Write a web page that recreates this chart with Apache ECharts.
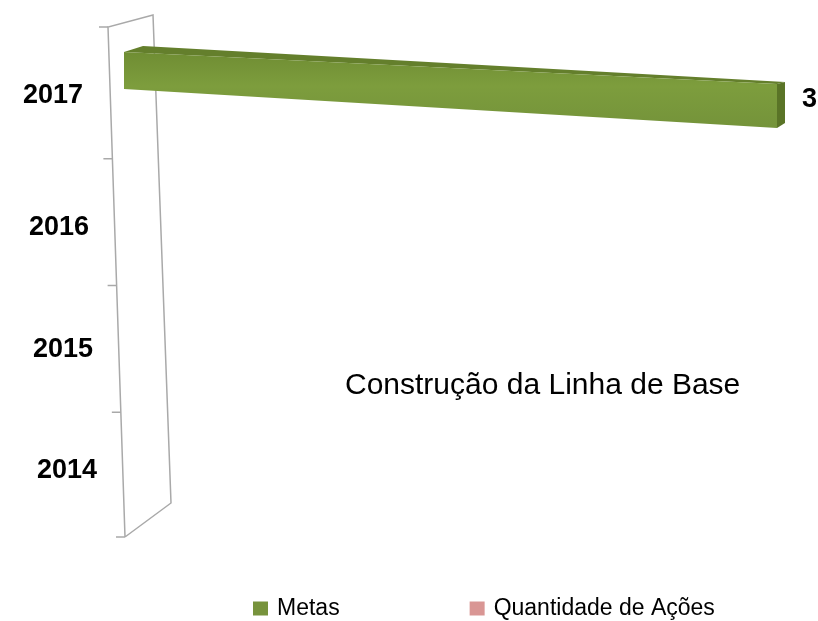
<!DOCTYPE html>
<html>
<head>
<meta charset="utf-8">
<script src="https://cdn.jsdelivr.net/npm/echarts@6/dist/echarts.min.js"></script>
<style>html,body{margin:0;padding:0;background:#fff;}#c{width:818px;height:621px;}</style>
</head>
<body>
<div id="c"></div>
<script>
// ---- data ----
const years = ['2014', '2015', '2016', '2017'];
const metas = [null, null, null, 3];
const acoes = [null, null, null, null];
const seriesNames = ['Metas', 'Quantidade de Ações'];
const chartTitle = 'Construção da Linha de Base';
const xMax = 3;

const FONT = '"Liberation Sans", Arial, sans-serif';
const chart = echarts.init(document.getElementById('c'), null, {renderer: 'canvas'});

function makeBarRenderer(colors) {
  return function (params, api) {
    const v = api.value(0);
    if (v == null || isNaN(v)) return;
    const cat = api.value(1);
    const p0 = api.coord([0, cat]);
    const p1 = api.coord([v, cat]);
    const band = api.size([0, 1])[1];
    const cy = p0[1];
    const x0 = p0[0], x1 = p1[0];
    const lt = cy - 0.342 * band, lb = cy - 0.05 * band;
    const rt = cy - 0.09 * band, rb = cy + 0.257 * band;
    return {
      type: 'group',
      children: [
        { type: 'polygon', shape: { points: [[x0, lt], [x1, rt], [x1 + 8, rt - 2], [x0 + 19, lt - 6]] },
          style: { fill: colors.top } },
        { type: 'polygon', shape: { points: [[x1, rt], [x1 + 8, rt - 2], [x1 + 8, rb - 5], [x1, rb]] },
          style: { fill: colors.side } },
        { type: 'polygon', shape: { points: [[x0, lt], [x1, rt], [x1, rb], [x0, lb]] },
          style: { fill: new echarts.graphic.LinearGradient(0, 0, 0, 1, [
            { offset: 0, color: colors.frontTop },
            { offset: 0.45, color: colors.frontMid },
            { offset: 1, color: colors.frontBot }
          ]) } },
        { type: 'text', style: { text: String(v), x: x1 + 25, y: (rt + rb) / 2 - 6,
            fill: '#000', font: 'bold 27px ' + FONT, align: 'left', verticalAlign: 'middle' } }
      ]
    };
  };
}

function renderWall(params, api) {
  const cs = params.coordSys;
  const x = cs.x, y = cs.y, w = cs.width, h = cs.height;
  const ft = [x - 16, y - 5], fb = [x + 1, y + h - 2];
  const bt = [x + 29, y - 17], bb = [x + 47, y + h - 36];
  const lineStyle = { stroke: '#a9a9a9', lineWidth: 1.5 };
  const children = [
    { type: 'polyline', shape: { points: [fb, ft, bt, bb, fb] }, style: Object.assign({ fill: null }, lineStyle) }
  ];
  const n = years.length;
  for (let i = 0; i <= n; i++) {
    let ty = y + h * i / n;
    if (i === 0) ty = ft[1];
    if (i === n) ty = fb[1];
    const tx = ft[0] + (fb[0] - ft[0]) * (ty - ft[1]) / (fb[1] - ft[1]);
    children.push({ type: 'line', shape: { x1: tx - 9, y1: ty, x2: tx, y2: ty }, style: lineStyle });
  }
  return { type: 'group', children: children };
}

const greenColors = { top: '#647f2c', side: '#5a7427', frontTop: '#6f8d33', frontMid: '#7d9d3d', frontBot: '#74933a' };
const pinkColors = { top: '#c27d7b', side: '#b87371', frontTop: '#d48f8d', frontMid: '#dd9a98', frontBot: '#d69290' };

const padMap = { '2017': [0, 14, 0, 0], '2016': [10, 8, 0, 0], '2015': [2, 4, 0, 0], '2014': [0, 0, 10, 0] };
const rich = {};
years.forEach(function (yv) {
  rich['y' + yv] = { fontFamily: FONT, fontSize: 27, fontWeight: 'bold', color: '#000', padding: padMap[yv] };
});

chart.setOption({
  backgroundColor: '#fff',
  animation: false,
  title: {
    text: chartTitle, left: 345, top: 371, padding: 0,
    textStyle: { fontFamily: FONT, fontSize: 30, fontWeight: 'normal', color: '#000' }
  },
  legend: {
    data: seriesNames.map(function (n) { return { name: n, icon: 'rect' }; }),
    left: 253, top: 597, padding: 0, itemWidth: 15, itemHeight: 14, itemGap: 130,
    textStyle: { fontFamily: FONT, fontSize: 23, color: '#000', padding: [0, 0, 0, 4] }
  },
  grid: { left: 124, right: 41, top: 32, bottom: 82, containLabel: false },
  xAxis: { type: 'value', min: 0, max: xMax, show: false },
  yAxis: {
    type: 'category', data: years,
    axisLine: { show: false }, axisTick: { show: false }, splitLine: { show: false },
    axisLabel: { margin: 27, formatter: function (val) { return '{y' + val + '|' + val + '}'; }, rich: rich }
  },
  series: [
    { type: 'custom', name: '_wall', silent: true, renderItem: renderWall, data: [[0, 0]], z: 1 },
    { type: 'custom', name: seriesNames[0], itemStyle: { color: '#77933C' }, z: 2,
      renderItem: makeBarRenderer(greenColors), encode: { x: 0, y: 1 },
      data: years.map(function (yv, i) { return [metas[i], yv]; }) },
    { type: 'custom', name: seriesNames[1], itemStyle: { color: '#D99694' }, z: 2,
      renderItem: makeBarRenderer(pinkColors), encode: { x: 0, y: 1 },
      data: years.map(function (yv, i) { return [acoes[i], yv]; }) }
  ]
});
</script>
</body>
</html>
